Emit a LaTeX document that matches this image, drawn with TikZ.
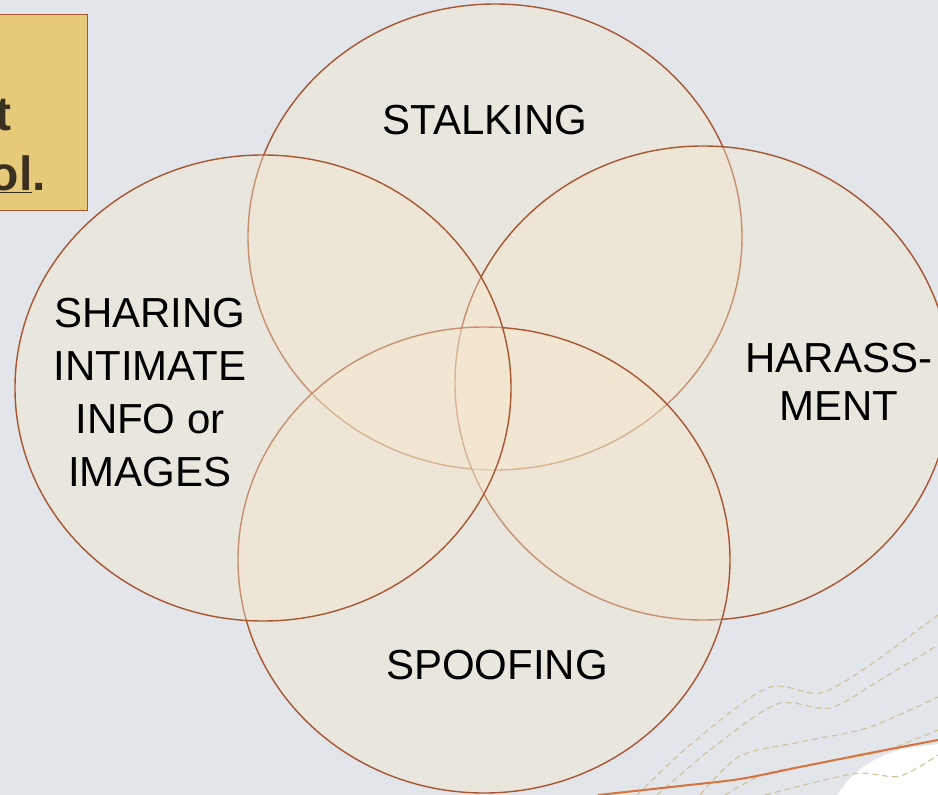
\documentclass[tikz,border=0pt]{standalone}
\usepackage{fontspec}
\setmainfont{Liberation Sans}
\usepackage{tikz}

\definecolor{bgcol}{RGB}{226,229,233}
\definecolor{creamfill}{RGB}{245,232,205}
\definecolor{rimcol}{RGB}{169,85,47}
\definecolor{notecol}{RGB}{231,201,122}
\definecolor{notetext}{RGB}{58,48,32}
\definecolor{dashcol}{RGB}{206,190,148}
\definecolor{wavecol}{RGB}{214,114,58}

\begin{document}
\begin{tikzpicture}[x=1pt, y=-1pt,
  venn/.style={fill=creamfill, fill opacity=0.4, draw=rimcol, draw opacity=1, line width=1.4pt},
  lbl/.style={anchor=north, inner sep=0pt, align=center, font={\fontsize{42}{53}\selectfont}},
  wavy/.style={dashed, dash pattern=on 6pt off 4pt, draw=dashcol, line width=1pt}]
\useasboundingbox (0,0) rectangle (938,795);
\clip (0,0) rectangle (938,795);
\fill[bgcol] (0,0) rectangle (938,795);
% corner decoration
\fill[white] (837,795) .. controls (855,768) and (880,752) .. (915,747) -- (938,744) -- (938,795) -- cycle;
\draw[wavy] plot[smooth] coordinates {(637,795) (690,745) (767,688) (820,693) (870,665) (938,615)};
\draw[wavy] plot[smooth] coordinates {(657,795) (710,750) (777,704) (830,708) (880,680) (938,645)};
\draw[wavy] plot[smooth] coordinates {(700,795) (740,756) (800,742) (867,728) (938,697)};
\draw[wavy] plot[smooth] coordinates {(725,795) (765,774) (820,763) (880,752) (938,730)};
\draw[wavy] plot[smooth] coordinates {(765,795) (820,781) (860,773) (900,776) (938,755)};
\draw[wavecol, line width=2pt] plot[smooth] coordinates {(598,795) (680,786) (740,779) (800,767) (870,753) (938,740)};
% note box
\filldraw[fill=notecol, draw=rimcol, line width=1pt] (-10,14) rectangle (87,210);
\node[anchor=base east, inner sep=0pt, text=notetext, font={\fontsize{48}{58}\bfseries}] (notea) at (12,130) {t};
\node[anchor=base east, inner sep=0pt, text=notetext, font={\fontsize{48}{58}\bfseries}] (noteb) at (46,190) {\underline{ol}.};
% venn circles
\filldraw[venn] (495,237) ellipse [x radius=247pt, y radius=233pt];
\filldraw[venn] (703,383) ellipse [x radius=248pt, y radius=237pt];
\filldraw[venn] (484,560) ellipse [x radius=246pt, y radius=233pt];
\filldraw[venn] (263,388) ellipse [x radius=248pt, y radius=233pt];
% labels
\node[lbl] (stalk) at (485,105) {STALKING};
\node[lbl] (share) at (150,298) {SHARING\\INTIMATE\\INFO or\\IMAGES};
\node[lbl, font={\fontsize{42}{48}\selectfont}] (harass) at (839,343) {HARASS-\\MENT};
\node[lbl] (spoof) at (497,650) {SPOOFING};
\end{tikzpicture}
\end{document}
